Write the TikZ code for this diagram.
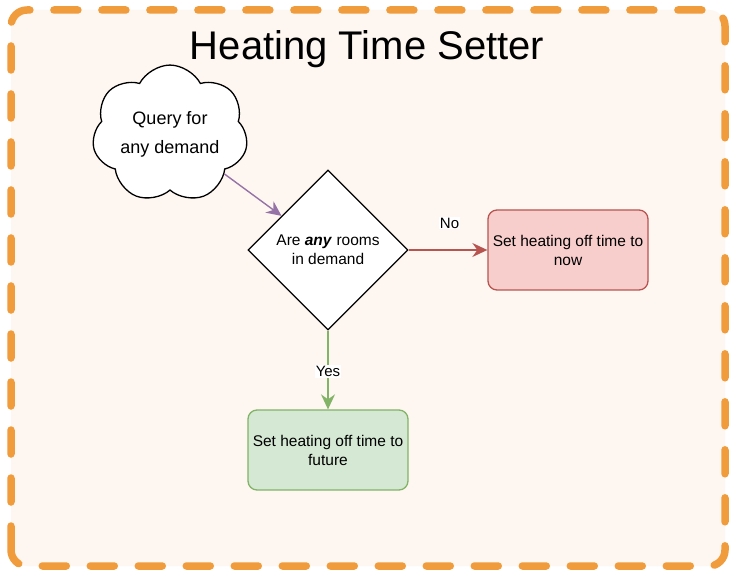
\documentclass[tikz,border=0pt]{standalone}
\usepackage{fontspec}
\setmainfont{Liberation Sans}
\usetikzlibrary{shapes.geometric,shapes.symbols,positioning,arrows.meta}

\definecolor{framec}{HTML}{F19C3C}
\definecolor{framefill}{HTML}{FEF7F1}
\definecolor{nofill}{HTML}{F8CECC}
\definecolor{noline}{HTML}{B85450}
\definecolor{yesfill}{HTML}{D5E8D4}
\definecolor{yesline}{HTML}{82B366}
\definecolor{qline}{HTML}{9673A6}

\tikzset{
    box/.style={rectangle, rounded corners=9pt, draw, line width=1.3pt,
        minimum width=160pt, minimum height=80pt, inner sep=0pt, align=center,
        font=\fontsize{15.5}{19}\selectfont},
    tip/.style={-{Stealth[length=15pt,width=14pt,inset=5pt]}, line width=1.4pt},
    lbl/.style={fill=white, text=black, inner sep=1pt, font=\fontsize{15}{17}\selectfont}
}

\begin{document}
\begin{tikzpicture}[x=1pt,y=1pt,node distance=240pt and 200pt,on grid]
    \useasboundingbox (0,0) rectangle (734,574);
    \fill[white] (0,0) rectangle (734,574);
    % frame
    \draw[framec, fill=framefill, line width=7.5pt, line cap=round, rounded corners=16pt,
        dash pattern=on 24pt off 24pt] (11,8) rectangle (725,564);
    \node[anchor=base, font=\fontsize{40}{44}\selectfont] (title) at (367,514) {Heating Time Setter};

    \node[diamond, draw, fill=white, line width=1.3pt, minimum width=160pt, minimum height=160pt,
        inner sep=0pt, align=center, font=\fontsize{15.5}{19}\selectfont]
        (dec) at (328,324) {Are \textbf{\textit{any}} rooms\\in demand};
    \node[box, draw=noline, fill=nofill] (now) [right=240pt of dec] {Set heating off time to\\now};
    \node[box, draw=yesline, fill=yesfill] (future) [below=200pt of dec] {Set heating off time to\\future};
    \node[cloud, draw, fill=white, line width=1.3pt, cloud puffs=7, cloud puff arc=125, aspect=1.25,
        minimum width=120pt, minimum height=106pt, inner sep=0pt, align=center,
        font=\fontsize{18}{29}\selectfont]
        (query) [above left=116pt and 158pt of dec] {Query for\\any demand};

    \path[tip]
    (query) edge[qline] (dec)
    (dec) edge[noline] node[lbl, above=20pt, pos=0.52] {No} (now)
    (dec) edge[yesline] node[lbl, pos=0.52] {Yes} (future);
\end{tikzpicture}
\end{document}
